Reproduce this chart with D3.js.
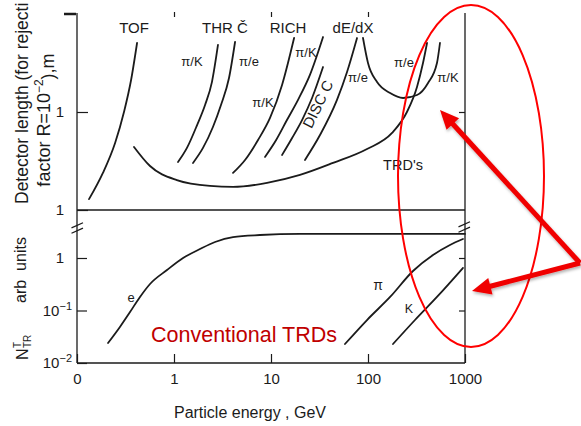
<!DOCTYPE html>
<html><head><meta charset="utf-8">
<script src="https://cdn.jsdelivr.net/npm/d3@7"></script>
<style>
html,body{margin:0;padding:0;background:#fff;}
svg{display:block;font-family:"Liberation Sans",Arial,Helvetica,sans-serif;}
</style></head><body>
<svg id="chart" width="581" height="426"></svg>
<script>
// ---------- data (energy in GeV, length in m, N_TR in arb units) ----------
const xTickValues = [0.1, 1, 10, 100, 1000];
const xTickLabels = ["0", "1", "10", "100", "1000"];
const topTickValues = [0.1, 1];
const topTickLabels = ["1", "1"];
const botTickValues = [0.01, 0.1, 1];
const botTickBase = ["10", "10", "1"];
const botTickExp = ["\u22122", "\u22121", ""];

const tofE = [0.133, 0.185, 0.247, 0.305, 0.361, 0.416];
const tofL = [0.129, 0.239, 0.483, 1.0, 2.12, 5.06];
const thrPiKE = [1.10, 1.36, 1.73, 2.09, 2.46, 2.84];
const thrPiKL = [0.309, 0.430, 0.736, 1.18, 2.02, 4.83];
const thrPiEE = [1.57, 1.99, 2.52, 3.05, 3.69, 4.26];
const thrPiEL = [0.302, 0.430, 0.703, 1.18, 2.22, 5.18];
const rich1E = [4.06, 5.40, 7.35, 9.77, 13.0, 17.3];
const rich1L = [0.239, 0.324, 0.518, 0.869, 1.89, 5.69];
const rich2E = [8.67, 11.3, 14.6, 19.0, 25.2, 34.4];
const rich2L = [0.348, 0.518, 0.828, 1.33, 2.39, 5.82];
const discE = [13.0, 16.5, 20.9, 26.5, 34.4];
const discL = [0.364, 0.543, 0.828, 1.39, 2.88];
const dedxPiEE = [22.4, 32.0, 47.9, 60.8, 77.1];
const dedxPiEL = [0.324, 0.582, 1.33, 2.56, 5.69];
const dedxUE = [88.8, 100, 124, 169, 230, 320, 416, 514, 552];
const dedxUL = [5.69, 3.16, 2.02, 1.56, 1.39, 1.49, 1.98, 3.16, 5.06];
const trdE = [0.387, 0.566, 1.07, 2.35, 4.06, 9.10, 19.9, 43.6, 97.7, 177, 252, 320, 369, 406];
const trdL = [0.440, 0.281, 0.202, 0.176, 0.172, 0.189, 0.228, 0.302, 0.419, 0.611, 1.0, 1.80, 3.16, 5.06];

const eE = [0.209, 0.277, 0.352, 0.446, 0.566, 0.847, 1.24, 1.85, 2.65, 4.06, 7.70, 19.9, 1000];
const eN = [0.024, 0.0485, 0.0935, 0.181, 0.320, 0.590, 1.0, 1.48, 2.02, 2.51, 2.74, 2.87, 2.87];
const piE = [57.9, 97.7, 169, 291, 468, 700, 953];
const piN = [0.023, 0.0659, 0.181, 0.565, 1.14, 1.77, 2.30];
const kE = [181, 305, 514, 953];
const kN = [0.023, 0.0659, 0.181, 0.646];

// ---------- setup ----------
const svg = d3.select("#chart");
const ink = "#1b1b1b";
const x = d3.scaleLog().domain([0.1, 1000]).range([77, 465]);
const yT = d3.scaleLog().domain([0.1, 10]).range([210, 14]);
const yB = d3.scaleLog().domain([0.01, 1]).range([363, 258]);
const xL = x.range()[0], xR = x.range()[1];

const zip = (a, b) => a.map((v, i) => [v, b[i]]);
const lineT = d3.line().x(d => x(d[0])).y(d => yT(d[1])).curve(d3.curveMonotoneX);
const lineB = d3.line().x(d => x(d[0])).y(d => yB(d[1])).curve(d3.curveMonotoneX);

// frame
const frame = svg.append("g").attr("stroke", ink).attr("stroke-width", 1.3).attr("fill", "none");
frame.append("line").attr("x1", xL).attr("x2", xL).attr("y1", yT(10) - 1).attr("y2", yB(0.01));
frame.append("line").attr("x1", xR).attr("x2", xR).attr("y1", yT(10) - 1).attr("y2", yB(0.01));
frame.append("line").attr("x1", xL).attr("x2", xR).attr("y1", yT(0.1)).attr("y2", yT(0.1));
frame.append("line").attr("x1", xL).attr("x2", xR).attr("y1", yB(0.01)).attr("y2", yB(0.01));
// outward tick at top of left axis
frame.append("line").attr("x1", xL - 13).attr("x2", xL - 1).attr("y1", yT(10)).attr("y2", yT(10)).attr("stroke-width", 2.5);

// axis break marks
function brk(cx, cy) {
  [-2.7, 2.7].forEach(o => {
    frame.append("line").attr("x1", cx - 5.5).attr("y1", cy + o + 2.6)
      .attr("x2", cx + 6).attr("y2", cy + o - 2.6).attr("stroke-width", 1.2);
  });
}
brk(xL, yT(0.1) + 18);
brk(xR - 1, yT(0.1) + 17);

function styleAxis(g) {
  g.select(".domain").remove();
  g.selectAll(".tick line").attr("stroke", ink).attr("stroke-width", 1.2);
  g.selectAll(".tick text").attr("fill", ink).attr("font-size", 15)
    .attr("font-family", '"Liberation Sans",Arial,sans-serif');
}

// bottom x axis
svg.append("g").attr("transform", `translate(0,${yB(0.01)})`)
  .call(d3.axisBottom(x).tickValues(xTickValues).tickFormat((d, i) => xTickLabels[i]).tickSize(-9).tickPadding(10))
  .call(styleAxis);
// top ticks
svg.append("g").attr("transform", `translate(0,${yT(10) - 2})`)
  .call(d3.axisTop(x).tickValues([1, 10, 100]).tickFormat("").tickSize(-5))
  .call(styleAxis);
// left top y axis
svg.append("g").attr("transform", `translate(${xL},0)`)
  .call(d3.axisLeft(yT).tickValues(topTickValues).tickFormat((d, i) => topTickLabels[i]).tickSize(-11).tickPadding(13))
  .call(styleAxis);
// left bottom y axis
const lb = svg.append("g").attr("transform", `translate(${xL},0)`)
  .call(d3.axisLeft(yB).tickValues(botTickValues).tickFormat("").tickSize(-10))
  .call(styleAxis);
lb.selectAll(".tick text").each(function (d, i) {
  const t = d3.select(this).text(null).attr("x", botTickExp[i] ? -5 : -13).attr("dy", "0.32em");
  t.append("tspan").text(botTickBase[i]);
  if (botTickExp[i]) t.append("tspan").attr("font-size", 11).attr("dy", "-0.55em").text(botTickExp[i]);
});
// right axes
svg.append("g").attr("transform", `translate(${xR},0)`)
  .call(d3.axisRight(yT).tickValues([1]).tickFormat("").tickSize(-6)).call(styleAxis);
svg.append("g").attr("transform", `translate(${xR},0)`)
  .call(d3.axisRight(yB).tickValues([0.1, 1]).tickFormat("").tickSize(-6)).call(styleAxis);

// ---------- curves ----------
const topCurves = [
  zip(tofE, tofL), zip(thrPiKE, thrPiKL), zip(thrPiEE, thrPiEL),
  zip(rich1E, rich1L), zip(rich2E, rich2L), zip(discE, discL),
  zip(dedxPiEE, dedxPiEL), zip(dedxUE, dedxUL), zip(trdE, trdL)
];
const botCurves = [zip(eE, eN), zip(piE, piN), zip(kE, kN)];
const cg = svg.append("g").attr("fill", "none").attr("stroke", ink).attr("stroke-width", 1.8).attr("stroke-linecap", "round");
cg.selectAll("path.t").data(topCurves).join("path").attr("class", "t").attr("d", lineT);
cg.selectAll("path.b").data(botCurves).join("path").attr("class", "b").attr("d", lineB);

// ---------- labels ----------
const labels = [
  { t: "TOF", x: 134, y: 33, s: 15 },
  { t: "THR \u010C", x: 225, y: 33, s: 15 },
  { t: "RICH", x: 288, y: 33, s: 15 },
  { t: "dE/dX", x: 353, y: 33, s: 15 },
  { t: "\u03C0/K", x: 192, y: 66, s: 13 },
  { t: "\u03C0/e", x: 249, y: 66, s: 13 },
  { t: "\u03C0/K", x: 263, y: 107, s: 13 },
  { t: "\u03C0/K", x: 306, y: 57, s: 13 },
  { t: "\u03C0/e", x: 358, y: 82, s: 13 },
  { t: "\u03C0/e", x: 404, y: 67, s: 13 },
  { t: "\u03C0/K", x: 448, y: 82, s: 13 },
  { t: "TRD's", x: 403, y: 170, s: 14.5 },
  { t: "e", x: 131, y: 302, s: 13 },
  { t: "\u03C0", x: 378, y: 290, s: 14 },
  { t: "K", x: 409, y: 313, s: 12.5 }
];
svg.append("g").selectAll("text").data(labels).join("text")
  .attr("x", d => d.x).attr("y", d => d.y).attr("font-size", d => d.s)
  .attr("text-anchor", "middle").attr("fill", ink).text(d => d.t);

svg.append("text").attr("transform", "translate(318,104) rotate(-64)")
  .attr("text-anchor", "middle").attr("dy", "0.35em").attr("font-size", 15).attr("fill", ink).text("DISC C");

// axis titles
svg.append("text").attr("transform", "translate(28,204) rotate(-90)")
  .attr("font-size", 17.5).attr("fill", ink).text("Detector length (for rejecti");
const l2 = svg.append("text").attr("transform", "translate(50,120) rotate(-90)")
  .attr("font-size", 18).attr("fill", ink).attr("text-anchor", "middle");
l2.append("tspan").text("factor R=10");
l2.append("tspan").attr("font-size", 12).attr("dy", "-0.6em").text("\u22122");
l2.append("tspan").attr("dy", "0.6em").text("),m");

svg.append("text").attr("transform", "translate(26,270) rotate(-90)")
  .attr("font-size", 16).attr("fill", ink).attr("text-anchor", "middle")
  .style("white-space", "pre").text("arb  units");
const nt = svg.append("g").attr("transform", "translate(28,360) rotate(-90)").attr("fill", ink);
nt.append("text").attr("font-size", 16).text("N");
nt.append("text").attr("x", 12).attr("y", -7).attr("font-size", 10).text("T");
nt.append("text").attr("x", 12).attr("y", 3).attr("font-size", 10).text("TR");

svg.append("text").attr("x", 250).attr("y", 418).attr("text-anchor", "middle")
  .attr("font-size", 16).attr("fill", ink).text("Particle energy , GeV");

svg.append("text").attr("x", 151).attr("y", 342).attr("font-size", 21.5)
  .attr("fill", "#C00000").text("Conventional TRDs");

// ---------- red annotation ----------
const defs = svg.append("defs");
const f = defs.append("filter").attr("id", "sh").attr("x", "-20%").attr("y", "-20%").attr("width", "140%").attr("height", "140%");
f.append("feDropShadow").attr("dx", 1).attr("dy", 2).attr("stdDeviation", 1.5).attr("flood-color", "#000").attr("flood-opacity", 0.3);

svg.append("ellipse").attr("cx", 471).attr("cy", 176).attr("rx", 73).attr("ry", 171)
  .attr("fill", "none").attr("stroke", "#FF0000").attr("stroke-width", 2);

const red = "#F00000";
const origin = [580, 263];
const tips = [[440, 110], [472, 291]];
const ag = svg.append("g").attr("filter", "url(#sh)");
tips.forEach(tp => {
  const dx = tp[0] - origin[0], dy = tp[1] - origin[1];
  const len = Math.hypot(dx, dy), ux = dx / len, uy = dy / len;
  const hl = 19, hw = 8.5;
  const bx = tp[0] - ux * hl, by = tp[1] - uy * hl;
  ag.append("line").attr("x1", origin[0]).attr("y1", origin[1]).attr("x2", bx + ux * 2).attr("y2", by + uy * 2)
    .attr("stroke", red).attr("stroke-width", 5);
  ag.append("polygon").attr("fill", red)
    .attr("points", [[tp[0], tp[1]], [bx - uy * hw, by + ux * hw], [bx + uy * hw, by - ux * hw]].map(p => p.join(",")).join(" "));
});
</script>
</body></html>
